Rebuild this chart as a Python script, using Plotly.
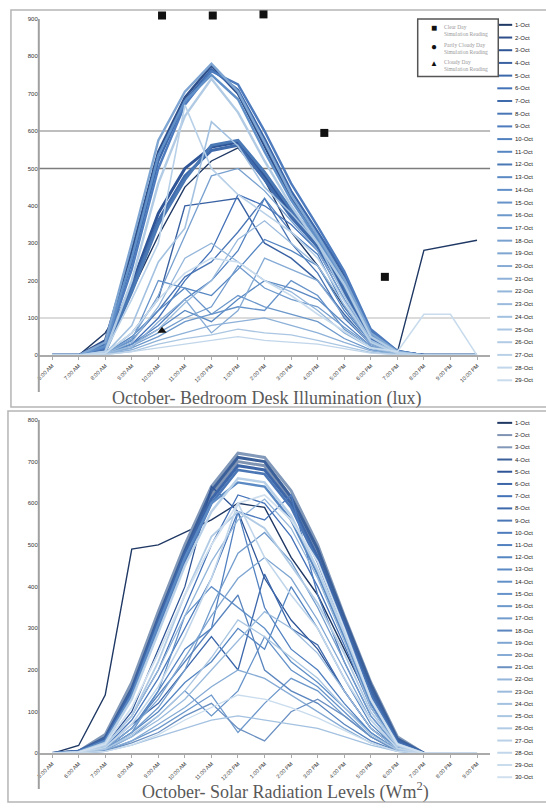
import plotly.graph_objects as go

W, H = 546, 808

# ---------------- data ----------------
top_times = ["6:00 AM", "7:00 AM", "8:00 AM", "9:00 AM", "10:00 AM", "11:00 AM", "12:00 PM",
             "1:00 PM", "2:00 PM", "3:00 PM", "4:00 PM", "5:00 PM", "6:00 PM", "7:00 PM",
             "8:00 PM", "9:00 PM", "10:00 PM"]
bot_times = ["5:00 AM", "6:00 AM", "7:00 AM", "8:00 AM", "9:00 AM", "10:00 AM", "11:00 AM",
             "12:00 PM", "1:00 PM", "2:00 PM", "3:00 PM", "4:00 PM", "5:00 PM", "6:00 PM",
             "7:00 PM", "8:00 PM", "9:00 PM"]

top_days = ["%d-Oct" % d for d in range(1, 30)]
bot_days = ["%d-Oct" % d for d in range(1, 31)]

lux_d01 = [0, 0, 60, 172, 320, 450, 520, 555, 470, 330, 240, 130, 40, 8, 281, 295, 308]
lux_d02 = [0, 0, 40, 280, 545, 690, 775, 700, 560, 420, 320, 210, 60, 10, 0, 0, 0]
lux_d03 = [0, 0, 20, 190, 380, 500, 557, 570, 480, 380, 300, 180, 50, 8, 0, 0, 0]
lux_d04 = [0, 0, 5, 60, 150, 400, 410, 420, 300, 260, 200, 110, 30, 5, 0, 0, 0]
lux_d05 = [0, 0, 30, 250, 520, 680, 765, 710, 580, 440, 330, 220, 65, 12, 0, 0, 0]
lux_d06 = [0, 0, 5, 30, 100, 200, 280, 430, 400, 350, 280, 150, 40, 6, 0, 0, 0]
lux_d07 = [0, 0, 15, 180, 360, 480, 548, 562, 470, 370, 290, 170, 45, 8, 0, 0, 0]
lux_d08 = [0, 0, 5, 40, 120, 210, 250, 330, 420, 300, 220, 100, 30, 5, 0, 0, 0]
lux_d09 = [0, 0, 20, 230, 500, 670, 760, 725, 600, 460, 345, 225, 70, 12, 0, 0, 0]
lux_d10 = [0, 0, 5, 30, 80, 150, 200, 280, 420, 330, 270, 130, 35, 5, 0, 0, 0]
lux_d11 = [0, 0, 5, 50, 120, 180, 160, 230, 310, 280, 240, 120, 35, 5, 0, 0, 0]
lux_d12 = [0, 0, 10, 170, 350, 470, 562, 575, 490, 390, 310, 185, 55, 8, 0, 0, 0]
lux_d13 = [0, 0, 5, 30, 70, 120, 90, 150, 200, 180, 150, 85, 25, 4, 0, 0, 0]
lux_d14 = [0, 0, 25, 260, 535, 680, 750, 685, 545, 415, 310, 200, 55, 10, 0, 0, 0]
lux_d15 = [0, 0, 5, 40, 200, 180, 110, 130, 120, 200, 160, 70, 20, 4, 0, 0, 0]
lux_d16 = [0, 0, 5, 20, 50, 90, 110, 160, 130, 110, 90, 45, 15, 3, 0, 0, 0]
lux_d17 = [0, 0, 5, 25, 60, 100, 130, 240, 180, 150, 130, 75, 25, 4, 0, 0, 0]
lux_d18 = [0, 0, 5, 45, 160, 320, 480, 500, 440, 360, 280, 150, 40, 6, 0, 0, 0]
lux_d19 = [0, 0, 35, 300, 575, 705, 780, 705, 570, 430, 320, 205, 60, 10, 0, 0, 0]
lux_d20 = [0, 0, 4, 20, 90, 150, 60, 120, 260, 230, 200, 105, 30, 4, 0, 0, 0]
lux_d21 = [0, 0, 3, 15, 40, 60, 80, 90, 100, 80, 60, 35, 12, 3, 0, 0, 0]
lux_d22 = [0, 0, 5, 35, 130, 260, 300, 250, 200, 170, 120, 60, 20, 4, 0, 0, 0]
lux_d23 = [0, 0, 4, 25, 70, 140, 200, 310, 360, 300, 240, 135, 35, 5, 0, 0, 0]
lux_d24 = [0, 0, 5, 80, 250, 340, 625, 560, 450, 380, 300, 160, 40, 6, 0, 0, 0]
lux_d25 = [0, 0, 3, 10, 30, 45, 55, 70, 60, 55, 40, 25, 8, 2, 0, 0, 0]
lux_d26 = [0, 0, 10, 200, 460, 640, 740, 650, 520, 400, 300, 190, 50, 8, 0, 0, 0]
lux_d27 = [0, 0, 10, 150, 300, 670, 500, 430, 380, 330, 260, 145, 35, 6, 0, 0, 0]
lux_d28 = [0, 0, 2, 10, 20, 30, 40, 50, 40, 35, 30, 18, 6, 2, 0, 0, 0]
lux_d29 = [0, 0, 5, 60, 150, 220, 260, 250, 200, 160, 110, 65, 20, 10, 110, 110, 0]

rad_d01 = [0, 19, 140, 490, 500, 530, 560, 600, 590, 470, 380, 250, 120, 20, 0, 0, 0]
rad_d02 = [0, 5, 40, 160, 330, 490, 620, 700, 690, 610, 480, 320, 160, 35, 0, 0, 0]
rad_d03 = [0, 5, 45, 170, 340, 500, 640, 720, 710, 630, 500, 330, 170, 40, 0, 0, 0]
rad_d04 = [0, 5, 38, 155, 325, 485, 630, 710, 700, 615, 490, 325, 165, 35, 0, 0, 0]
rad_d05 = [0, 3, 20, 100, 250, 400, 640, 580, 420, 320, 250, 150, 60, 12, 0, 0, 0]
rad_d06 = [0, 5, 35, 150, 320, 480, 610, 690, 680, 600, 470, 310, 150, 30, 0, 0, 0]
rad_d07 = [0, 3, 20, 90, 200, 350, 500, 620, 600, 520, 400, 260, 110, 20, 0, 0, 0]
rad_d08 = [0, 2, 15, 70, 120, 200, 280, 200, 430, 300, 260, 150, 60, 10, 0, 0, 0]
rad_d09 = [0, 4, 30, 140, 300, 460, 600, 680, 670, 590, 460, 300, 140, 25, 0, 0, 0]
rad_d10 = [0, 2, 15, 80, 180, 300, 420, 580, 560, 620, 380, 220, 90, 15, 0, 0, 0]
rad_d11 = [0, 2, 10, 60, 150, 250, 300, 580, 350, 250, 200, 120, 50, 8, 0, 0, 0]
rad_d12 = [0, 2, 10, 50, 100, 170, 220, 300, 250, 400, 300, 180, 70, 10, 0, 0, 0]
rad_d13 = [0, 4, 30, 140, 310, 470, 600, 650, 640, 560, 430, 280, 120, 22, 0, 0, 0]
rad_d14 = [0, 2, 10, 50, 150, 330, 400, 350, 300, 220, 170, 110, 50, 8, 0, 0, 0]
rad_d15 = [0, 2, 8, 40, 90, 150, 90, 150, 280, 200, 160, 100, 40, 6, 0, 0, 0]
rad_d16 = [0, 1, 5, 30, 60, 100, 140, 50, 120, 180, 150, 90, 40, 6, 0, 0, 0]
rad_d17 = [0, 2, 10, 50, 110, 200, 350, 480, 530, 460, 350, 220, 90, 15, 0, 0, 0]
rad_d18 = [0, 2, 12, 60, 140, 220, 300, 380, 200, 150, 120, 70, 30, 6, 0, 0, 0]
rad_d19 = [0, 2, 12, 60, 130, 230, 330, 420, 470, 420, 320, 200, 80, 12, 0, 0, 0]
rad_d20 = [0, 2, 8, 30, 70, 110, 160, 200, 180, 140, 100, 60, 25, 5, 0, 0, 0]
rad_d21 = [0, 1, 6, 25, 50, 90, 120, 60, 30, 100, 130, 90, 40, 6, 0, 0, 0]
rad_d22 = [0, 3, 20, 90, 200, 330, 460, 560, 610, 540, 420, 270, 110, 18, 0, 0, 0]
rad_d23 = [0, 2, 10, 40, 80, 130, 200, 270, 340, 300, 240, 150, 60, 10, 0, 0, 0]
rad_d24 = [0, 1, 5, 20, 40, 60, 80, 90, 80, 70, 60, 40, 20, 5, 0, 0, 0]
rad_d25 = [0, 2, 10, 45, 90, 150, 230, 320, 280, 230, 180, 110, 45, 8, 0, 0, 0]
rad_d26 = [0, 3, 18, 90, 220, 380, 520, 580, 540, 450, 360, 240, 100, 18, 0, 0, 0]
rad_d27 = [0, 3, 25, 130, 290, 450, 580, 660, 650, 570, 440, 290, 130, 22, 0, 0, 0]
rad_d28 = [0, 2, 14, 70, 160, 280, 420, 600, 470, 380, 300, 180, 80, 12, 0, 0, 0]
rad_d29 = [0, 1, 5, 20, 45, 80, 110, 140, 130, 110, 85, 55, 25, 5, 0, 0, 0]
rad_d30 = [0, 3, 22, 110, 240, 380, 500, 600, 620, 560, 460, 300, 130, 22, 0, 0, 0]

lux_series = [lux_d01, lux_d02, lux_d03, lux_d04, lux_d05, lux_d06, lux_d07, lux_d08, lux_d09,
              lux_d10, lux_d11, lux_d12, lux_d13, lux_d14, lux_d15, lux_d16, lux_d17, lux_d18,
              lux_d19, lux_d20, lux_d21, lux_d22, lux_d23, lux_d24, lux_d25, lux_d26, lux_d27,
              lux_d28, lux_d29]
rad_series = [rad_d01, rad_d02, rad_d03, rad_d04, rad_d05, rad_d06, rad_d07, rad_d08, rad_d09,
              rad_d10, rad_d11, rad_d12, rad_d13, rad_d14, rad_d15, rad_d16, rad_d17, rad_d18,
              rad_d19, rad_d20, rad_d21, rad_d22, rad_d23, rad_d24, rad_d25, rad_d26, rad_d27,
              rad_d28, rad_d29, rad_d30]

# simulation readings (x in time-category units)
clear_x = [4.14, 6.05, 7.96, 10.25, 12.53]
clear_y = [909, 909, 912, 595, 210]
cloudy_x = [4.14]
cloudy_y = [66]

# ---------------- styles ----------------
top_colors = ["#1f3864", "#2e4f8a", "#2f5597", "#3a62a2", "#3c68ab", "#4472b8", "#3f6aac",
              "#4a76b6", "#4d7bbd", "#5281c0", "#5586c2", "#4a78b5", "#5a89c3", "#6190c8",
              "#6693c9", "#6c98cb", "#729ccd", "#78a1d0", "#7fa6d2", "#86abd5", "#8db1d8",
              "#94b6da", "#9bbbdd", "#a3c1e0", "#aac6e2", "#b1cbe5", "#b9d1e8", "#c1d6ea",
              "#c9dced"]
top_widths = [1.4, 2.6, 3.0, 1.4, 2.4, 1.3, 3.0, 1.3, 2.4, 1.3, 1.3, 3.0, 1.3, 2.4, 1.3, 1.3,
              1.3, 1.3, 2.4, 1.3, 1.3, 1.3, 1.3, 1.6, 1.3, 2.4, 1.6, 1.3, 1.6]
bot_colors = ["#1f3864", "#7f93b3", "#8298b8", "#3a5f99", "#2f5597", "#3c66a8", "#4472b8",
              "#3d68ab", "#4a76b6", "#4d7bbd", "#5281c0", "#5586c2", "#5a89c3", "#6190c8",
              "#6693c9", "#6c98cb", "#729ccd", "#5a85be", "#7fa6d2", "#86abd5", "#6b90c2",
              "#94b6da", "#9bbbdd", "#a3c1e0", "#aac6e2", "#b1cbe5", "#b9d1e8", "#c1d6ea",
              "#c9dced", "#d1e0ef"]
bot_widths = [1.4, 3.0, 3.0, 3.0, 1.3, 3.0, 1.3, 1.3, 2.6, 1.3, 1.3, 1.3, 2.4, 1.3, 1.3, 1.3,
              1.3, 1.3, 1.3, 1.3, 1.3, 1.3, 1.3, 1.3, 1.3, 1.8, 2.4, 1.6, 1.3, 1.8]


def px(x):
    return x / W


def py(y):
    return 1 - y / H


fig = go.Figure()

xi = list(range(len(top_times)))
for k, vals in enumerate(lux_series):
    fig.add_trace(go.Scatter(x=xi, y=vals, mode="lines", name=top_days[k],
                             line=dict(color=top_colors[k], width=top_widths[k]),
                             xaxis="x", yaxis="y", showlegend=False))
for k, vals in enumerate(rad_series):
    fig.add_trace(go.Scatter(x=xi, y=vals, mode="lines", name=bot_days[k],
                             line=dict(color=bot_colors[k], width=bot_widths[k]),
                             xaxis="x2", yaxis="y2", showlegend=False))

fig.add_trace(go.Scatter(x=clear_x, y=clear_y, mode="markers", name="Clear Day Simulation Reading",
                         marker=dict(symbol="square", size=8, color="#111"),
                         cliponaxis=False, xaxis="x", yaxis="y", showlegend=False))
fig.add_trace(go.Scatter(x=cloudy_x, y=cloudy_y, mode="markers", name="Cloudy Day Simulation Reading",
                         marker=dict(symbol="triangle-up", size=8, color="#111"),
                         cliponaxis=False, xaxis="x", yaxis="y", showlegend=False))

shapes = []
annotations = []

# panel borders
shapes.append(dict(type="rect", xref="paper", yref="paper", x0=px(8), x1=px(560), y0=py(407), y1=py(7),
                   line=dict(color="#b5b5b5", width=1.5), layer="below"))
shapes.append(dict(type="rect", xref="paper", yref="paper", x0=px(5), x1=px(560), y0=py(805), y1=py(411),
                   line=dict(color="#b5b5b5", width=1.5), layer="below"))

# reference lines in top chart
for val, col in [(600, "#a8a8a8"), (500, "#7d7d7d"), (100, "#cfcfcf")]:
    shapes.append(dict(type="line", xref="x", yref="y", x0=-0.5, x1=16.5, y0=val, y1=val,
                       line=dict(color=col, width=1.5), layer="below"))

# vertical axis lines
shapes.append(dict(type="line", xref="paper", yref="paper", x0=px(36), x1=px(36), y0=py(392), y1=py(16),
                   line=dict(color="#a0a0a0", width=2)))
shapes.append(dict(type="line", xref="paper", yref="paper", x0=px(36), x1=px(36), y0=py(792), y1=py(420),
                   line=dict(color="#a0a0a0", width=2)))

# manual legends
for k, name in enumerate(top_days):
    yy = 22 + 12.79 * k
    shapes.append(dict(type="line", xref="paper", yref="paper", x0=px(497), x1=px(512), y0=py(yy), y1=py(yy),
                       line=dict(color=top_colors[k], width=2)))
    annotations.append(dict(xref="paper", yref="paper", x=px(513), y=py(yy), text=name, showarrow=False,
                            xanchor="left", yanchor="middle",
                            font=dict(family="Liberation Sans Narrow, Liberation Sans", size=6, color="#222")))
for k, name in enumerate(bot_days):
    yy = 423 + 12.31 * k
    shapes.append(dict(type="line", xref="paper", yref="paper", x0=px(497), x1=px(512), y0=py(yy), y1=py(yy),
                       line=dict(color=bot_colors[k], width=2)))
    annotations.append(dict(xref="paper", yref="paper", x=px(513), y=py(yy), text=name, showarrow=False,
                            xanchor="left", yanchor="middle",
                            font=dict(family="Liberation Sans Narrow, Liberation Sans", size=6, color="#222")))

# simulation reading legend box
shapes.append(dict(type="rect", xref="paper", yref="paper", x0=px(417), x1=px(498), y0=py(74), y1=py(16),
                   line=dict(color="#555", width=1.5), fillcolor="white"))
for sym, sz, yy, txt, ty in [("■", 10, 24, "Clear Day<br>Simulation Reading", 28),
                             ("●", 10, 43, "Partly Cloudy Day<br>Simulation Reading", 46),
                             ("▲", 8, 60, "Cloudy Day<br>Simulation Reading", 63)]:
    annotations.append(dict(xref="paper", yref="paper", x=px(433), y=py(yy), text=sym, showarrow=False,
                            xanchor="center", yanchor="middle", font=dict(size=sz, color="#111")))
    annotations.append(dict(xref="paper", yref="paper", x=px(441), y=py(ty), text=txt, showarrow=False,
                            xanchor="left", yanchor="middle", align="left",
                            font=dict(family="Liberation Serif", size=5.5, color="#999")))

# titles
annotations.append(dict(xref="paper", yref="paper", x=px(265), y=py(398),
                        text="October- Bedroom Desk Illumination (lux)", showarrow=False,
                        xanchor="center", yanchor="middle",
                        font=dict(family="Liberation Serif", size=18, color="#595959")))
annotations.append(dict(xref="paper", yref="paper", x=px(284), y=py(794),
                        text="October- Solar Radiation Levels (Wm<sup>2</sup>)", showarrow=False,
                        xanchor="center", yanchor="middle",
                        font=dict(family="Liberation Serif", size=18, color="#595959")))

xcommon = dict(range=[-0.5, 16.5], domain=[px(36), px(490)], tickmode="array", tickvals=xi,
               tickangle=-45, tickfont=dict(family="Liberation Sans", size=5.5, color="#333"),
               showline=True, linecolor="#aaaaaa", linewidth=2, ticks="outside", ticklen=3,
               tickcolor="#aaaaaa", showgrid=False, zeroline=False)
ycommon = dict(tickfont=dict(family="Liberation Sans", size=6, color="#333"), showgrid=False,
               zeroline=False, showline=False, ticks="")

top_px_per = (355 - 16) / 900.0
top_y_top = 355 - 920 * top_px_per

fig.update_layout(
    width=W, height=H, margin=dict(l=0, r=0, t=0, b=0),
    paper_bgcolor="white", plot_bgcolor="white", showlegend=False,
    xaxis=dict(xcommon, anchor="y", ticktext=top_times),
    yaxis=dict(ycommon, anchor="x", domain=[py(355), py(top_y_top)], range=[0, 920],
               tickvals=[0, 100, 200, 300, 400, 500, 600, 700, 800, 900]),
    xaxis2=dict(xcommon, anchor="y2", ticktext=bot_times),
    yaxis2=dict(ycommon, anchor="x2", domain=[py(756), py(420)], range=[0, 800],
                tickvals=[0, 100, 200, 300, 400, 500, 600, 700, 800]),
    shapes=shapes, annotations=annotations,
)

fig.write_html("out.html", config={"displayModeBar": False},
               post_script="document.body.style.margin='0px';document.body.style.overflow='hidden';")
